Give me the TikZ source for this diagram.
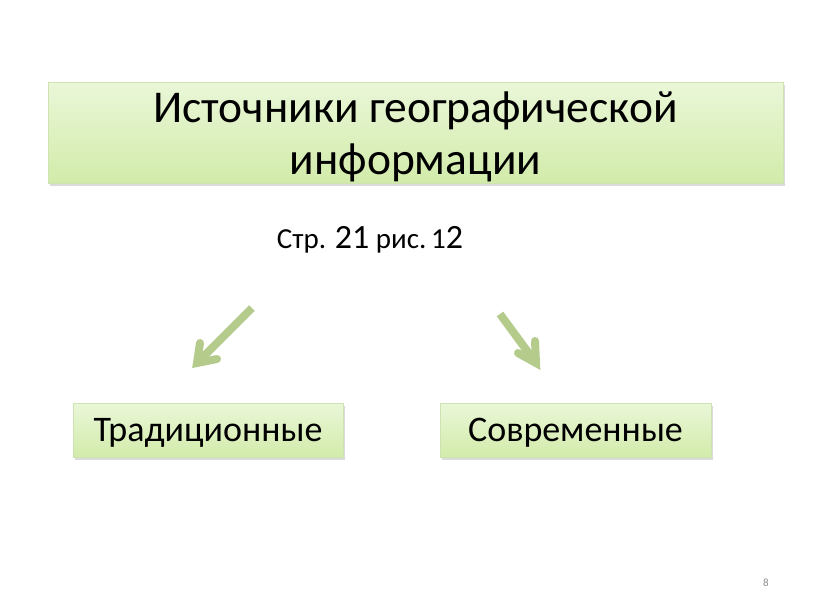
\documentclass[tikz,border=0pt]{standalone}
\usepackage{fontspec}
\setmainfont{Carlito}
\usetikzlibrary{shadows}
\definecolor{gtop}{HTML}{EAF7D8}
\definecolor{gbot}{HTML}{D2EBAA}
\definecolor{gline}{HTML}{CFE2B2}
\definecolor{arrowc}{HTML}{B4CB8C}
\tikzset{
  gbox/.style={draw=gline, line width=0.6pt, top color=gtop, bottom color=gbot,
    drop shadow={shadow xshift=2pt, shadow yshift=-2.5pt, fill=black!35, opacity=0.4},
    inner sep=0pt, align=center},
  shaft/.style={draw=arrowc, line width=8pt},
  barb/.style={draw=arrowc, line width=8pt, line cap=round, line join=miter},
}
\begin{document}
\begin{tikzpicture}[x=1pt,y=-1pt]
\useasboundingbox[fill=white] (0,0) rectangle (816,613);
\node[gbox, minimum width=735pt, minimum height=101pt] (title) at (415.5,132.5) {};
\node[align=center, font=\fontsize{45.5}{52}\selectfont] (titletext) at ([yshift=-4pt]title.center)
  {Источники географической\\информации};
\node (ref) at (370,240) {\fontsize{29}{30}\selectfont Стр. {\fontsize{34}{34}\selectfont 21} рис.\,1{\fontsize{34}{34}\selectfont 2}};
\node[gbox, minimum width=270pt, minimum height=54pt] (trad) at (208,430) {};
\node[font=\fontsize{36}{40}\selectfont] (tradtext) at ([yshift=-3pt]trad.center) {Традиционные};
\node[gbox, minimum width=271pt, minimum height=54pt] (mod) at (575.5,430) {};
\node[font=\fontsize{36}{40}\selectfont] (modtext) at ([yshift=-3pt]mod.center) {Современные};
% left arrow
\coordinate (l0) at (252,308);
\coordinate (lt) at (197,363);
\coordinate (la) at (200,343);
\coordinate (lb) at (217,359);
\draw[shaft] (l0) -- (lt);
\draw[barb] (la) -- (lt) -- (lb);
% right arrow
\coordinate (r0) at (500,314);
\coordinate (rt) at (536,363);
\coordinate (ra) at (535,341);
\coordinate (rb) at (518,353);
\draw[shaft] (r0) -- (rt);
\draw[barb] (ra) -- (rt) -- (rb);
\node[text=black!45] (pg) at (766,583) {\fontsize{11}{12}\selectfont 8};
\end{tikzpicture}
\end{document}
